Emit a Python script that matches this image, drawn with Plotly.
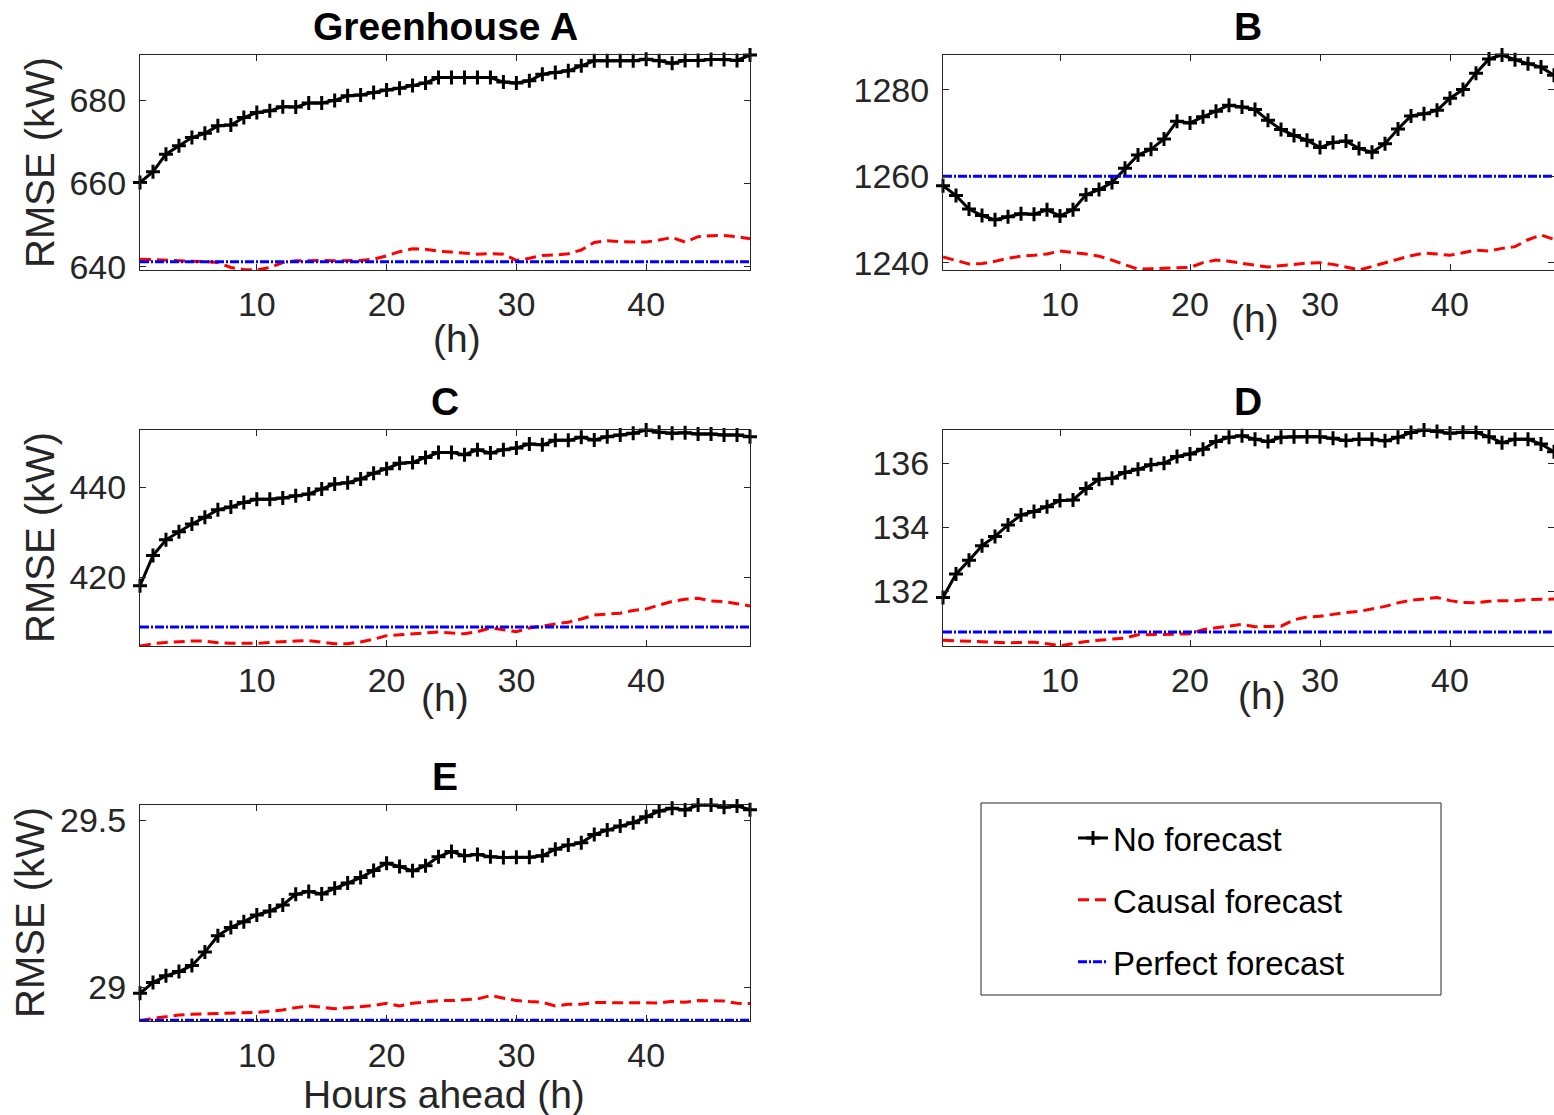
import plotly.graph_objects as go

W, H = 1554, 1115
hours = list(range(1, 49))

# ---------------- data ----------------
A_no = [660.2, 662.8, 667.0, 669.0, 671.0, 672.0, 673.8, 674.0, 675.8, 677.0,
        677.4, 678.4, 678.3, 679.3, 679.3, 679.9, 681.0, 681.2, 681.8, 682.4,
        682.8, 683.5, 684.1, 685.4, 685.4, 685.4, 685.4, 685.4, 684.3, 684.1,
        684.6, 686.2, 686.6, 687.0, 688.2, 689.4, 689.4, 689.4, 689.4, 689.8,
        689.4, 688.8, 689.5, 689.5, 689.7, 689.7, 689.5, 690.8]
A_causal = [641.8, 641.7, 641.6, 641.5, 641.4, 641.2, 641.0, 639.8, 639.3, 639.2,
            639.8, 641.0, 641.4, 641.5, 641.5, 641.4, 641.4, 641.5, 641.8, 642.6,
            643.6, 644.3, 644.2, 643.7, 643.5, 643.2, 643.0, 643.1, 643.0, 641.5,
            642.0, 642.7, 642.8, 643.1, 644.0, 645.8, 646.2, 646.0, 645.9, 645.9,
            646.4, 647.0, 645.9, 647.2, 647.4, 647.5, 647.2, 646.7]
A_perfect = 641.2

B_no = [1257.8, 1255.5, 1252.4, 1250.9, 1249.9, 1250.6, 1251.3, 1251.2, 1252.2, 1250.8,
        1252.2, 1255.7, 1256.9, 1258.5, 1261.8, 1264.9, 1266.2, 1268.6, 1272.7, 1272.3,
        1273.7, 1275.0, 1276.4, 1276.0, 1275.4, 1272.9, 1270.8, 1269.4, 1268.3, 1266.6,
        1267.8, 1268.1, 1266.4, 1265.5, 1267.5, 1270.9, 1273.9, 1274.4, 1275.2, 1278.0,
        1280.0, 1283.8, 1287.1, 1288.0, 1286.9, 1286.0, 1285.2, 1283.3]
B_causal = [1241.3, 1240.5, 1239.7, 1239.8, 1240.3, 1241.0, 1241.5, 1241.7, 1242.0, 1242.7,
            1242.4, 1242.0, 1241.5, 1240.6, 1239.5, 1238.5, 1238.6, 1238.7, 1238.8, 1238.9,
            1240.0, 1240.6, 1240.3, 1239.8, 1239.4, 1239.0, 1239.3, 1239.7, 1239.9, 1240.0,
            1239.6, 1239.0, 1238.3, 1239.1, 1240.0, 1240.8, 1241.6, 1242.2, 1242.0, 1241.7,
            1242.3, 1242.9, 1242.7, 1243.3, 1243.7, 1245.3, 1246.4, 1245.4]
B_perfect = 1260.0

C_no = [418.1, 424.8, 428.3, 430.1, 431.8, 433.3, 435.0, 435.6, 436.6, 437.3,
        437.3, 437.6, 438.1, 438.5, 439.6, 440.7, 441.0, 441.8, 443.1, 444.1,
        445.3, 445.5, 446.6, 447.7, 447.7, 447.2, 448.3, 447.6, 448.3, 448.7,
        449.6, 449.4, 450.4, 450.4, 451.1, 450.5, 451.2, 451.6, 452.0, 452.7,
        452.2, 452.0, 452.1, 451.8, 451.8, 451.6, 451.6, 451.2]
C_causal = [404.7, 405.2, 405.5, 405.7, 405.8, 405.8, 405.4, 405.3, 405.3, 405.3,
            405.5, 405.7, 405.8, 405.9, 405.5, 405.2, 405.2, 405.6, 406.2, 407.0,
            407.2, 407.4, 407.6, 407.8, 407.6, 407.4, 407.9, 408.7, 408.3, 407.9,
            408.7, 409.2, 409.6, 410.0, 410.7, 411.6, 411.8, 412.0, 412.6, 412.9,
            413.8, 414.6, 415.1, 415.3, 414.7, 414.6, 414.1, 413.6]
C_perfect = 408.9

D_no = [131.80, 132.53, 132.96, 133.42, 133.71, 134.07, 134.38, 134.49, 134.64, 134.83,
        134.85, 135.21, 135.50, 135.53, 135.71, 135.81, 135.95, 136.00, 136.21, 136.29,
        136.44, 136.68, 136.81, 136.86, 136.75, 136.68, 136.81, 136.83, 136.83, 136.83,
        136.78, 136.71, 136.75, 136.75, 136.70, 136.81, 136.96, 137.04, 136.99, 136.94,
        136.97, 136.96, 136.83, 136.64, 136.75, 136.75, 136.60, 136.36]
D_causal = [130.46, 130.45, 130.43, 130.42, 130.40, 130.38, 130.39, 130.40, 130.35, 130.29,
            130.35, 130.42, 130.46, 130.50, 130.53, 130.63, 130.63, 130.63, 130.65, 130.66,
            130.79, 130.85, 130.90, 130.96, 130.88, 130.88, 130.90, 131.10, 131.19, 131.21,
            131.28, 131.33, 131.36, 131.44, 131.52, 131.63, 131.71, 131.75, 131.80, 131.70,
            131.64, 131.63, 131.68, 131.70, 131.70, 131.73, 131.73, 131.75]
D_perfect = 130.72

E_no = [28.982, 29.014, 29.034, 29.047, 29.065, 29.105, 29.154, 29.179, 29.196, 29.216,
        29.228, 29.246, 29.278, 29.286, 29.279, 29.296, 29.312, 29.328, 29.349, 29.371,
        29.361, 29.348, 29.363, 29.390, 29.406, 29.393, 29.397, 29.390, 29.388, 29.389,
        29.389, 29.393, 29.413, 29.425, 29.432, 29.457, 29.470, 29.482, 29.492, 29.510,
        29.527, 29.535, 29.530, 29.545, 29.545, 29.538, 29.542, 29.531]
E_causal = [28.899, 28.907, 28.912, 28.917, 28.919, 28.920, 28.921, 28.922, 28.923, 28.925,
            28.928, 28.932, 28.939, 28.944, 28.940, 28.936, 28.939, 28.943, 28.945, 28.952,
            28.944, 28.952, 28.957, 28.960, 28.960, 28.962, 28.965, 28.975, 28.967, 28.960,
            28.957, 28.955, 28.944, 28.949, 28.949, 28.954, 28.954, 28.954, 28.955, 28.955,
            28.953, 28.958, 28.955, 28.960, 28.959, 28.959, 28.952, 28.951]
E_perfect = 28.901

panel_titles = ["Greenhouse A", "B", "C", "D", "E"]
x_ticks = [10, 20, 30, 40]

FONT = "Liberation Sans, Arial, Helvetica, sans-serif"
AXC = "#262626"

# panel geometry in pixels: (left, right, top, bottom), y range, dtick
panels = [
    (A_no, A_causal, A_perfect, (140, 750, 55, 270), [639.2, 690.8], 20),
    (B_no, B_causal, B_perfect, (943, 1554, 55, 270), [1238.3, 1288.0], 20),
    (C_no, C_causal, C_perfect, (140, 750, 430, 646), [404.7, 452.7], 20),
    (D_no, D_causal, D_perfect, (943, 1554, 430, 646), [130.28, 137.04], 2),
    (E_no, E_causal, E_perfect, (140, 750, 805, 1021), [28.899, 29.545], 0.5),
]

fig = go.Figure()
layout = dict(
    width=W, height=H, margin=dict(l=0, r=0, t=0, b=0),
    paper_bgcolor="white", plot_bgcolor="white",
    font=dict(family=FONT, size=34, color=AXC),
    showlegend=True,
)

annotations = []
for i, (no, causal, perfect, (l, r, t, b), yr, dt) in enumerate(panels):
    k = "" if i == 0 else str(i + 1)
    xa, ya = "x" + k, "y" + k
    show = (i == 0)
    fig.add_trace(go.Scatter(
        x=hours, y=no, xaxis=xa, yaxis=ya, mode="lines+markers",
        name="No forecast", legendgroup="no", showlegend=show, cliponaxis=False,
        line=dict(color="black", width=3),
        marker=dict(symbol="cross-thin", size=10, color="black",
                    line=dict(color="black", width=3))))
    fig.add_trace(go.Scatter(
        x=hours, y=causal, xaxis=xa, yaxis=ya, mode="lines",
        name="Causal forecast", legendgroup="causal", showlegend=show,
        line=dict(color="#ff0000", width=3, dash="11px,6px")))
    fig.add_trace(go.Scatter(
        x=[hours[0], hours[-1]], y=[perfect, perfect], xaxis=xa, yaxis=ya, mode="lines",
        name="Perfect forecast", legendgroup="perfect", showlegend=show,
        line=dict(color="#0000ff", width=3, dash="9px,2px,2px,2px")))

    common = dict(showline=True, linecolor=AXC, linewidth=1, mirror="ticks",
                  ticks="inside", ticklen=6, tickwidth=1, tickcolor=AXC,
                  showgrid=False, zeroline=False, automargin=False,
                  tickfont=dict(family=FONT, size=34, color=AXC))
    layout["xaxis" + k] = dict(common, domain=[l / W, r / W], anchor=ya,
                               range=[1, 48], tickvals=x_ticks,
                               ticklabelstandoff=4)
    layout["yaxis" + k] = dict(common, domain=[1 - b / H, 1 - t / H], anchor=xa,
                               range=yr, dtick=dt, ticklabelstandoff=6)

    cx = (l + r) / 2 if r < W else (l + 750 - 140 + l) / 2
    annotations.append(dict(text="<b>%s</b>" % panel_titles[i], x=cx / W, y=1 - (t - 29) / H,
                            xref="paper", yref="paper", showarrow=False,
                            font=dict(family=FONT, size=39, color="black"),
                            xanchor="center", yanchor="middle"))

# axis labels
xlabels = [("(h)", 457, 338), ("(h)", 1255, 318), ("(h)", 445, 697), ("(h)", 1262, 695),
           ("Hours ahead (h)", 444, 1094)]
for txt, x, y in xlabels:
    annotations.append(dict(text=txt, x=x / W, y=1 - y / H, xref="paper", yref="paper",
                            showarrow=False, xanchor="center", yanchor="middle",
                            font=dict(family=FONT, size=39, color=AXC)))
ylabels = [(40, 163), (40, 538), (30, 913)]
for x, y in ylabels:
    annotations.append(dict(text="RMSE (kW)", x=x / W, y=1 - y / H, xref="paper", yref="paper",
                            showarrow=False, xanchor="center", yanchor="middle", textangle=-90,
                            font=dict(family=FONT, size=40, color=AXC)))

layout["annotations"] = annotations
layout["shapes"] = [dict(type="rect", xref="paper", yref="paper",
                         x0=981 / W, x1=1441 / W, y0=1 - 995 / H, y1=1 - 803 / H,
                         line=dict(color=AXC, width=1), fillcolor="rgba(0,0,0,0)")]
layout["legend"] = dict(x=1073 / W, y=1 - 810 / H, xanchor="left", yanchor="top",
                        bgcolor="rgba(0,0,0,0)", borderwidth=0,
                        font=dict(family=FONT, size=33, color="black"),
                        tracegroupgap=16, itemwidth=30)

fig.update_layout(**layout)
fig.write_html("out.html")
